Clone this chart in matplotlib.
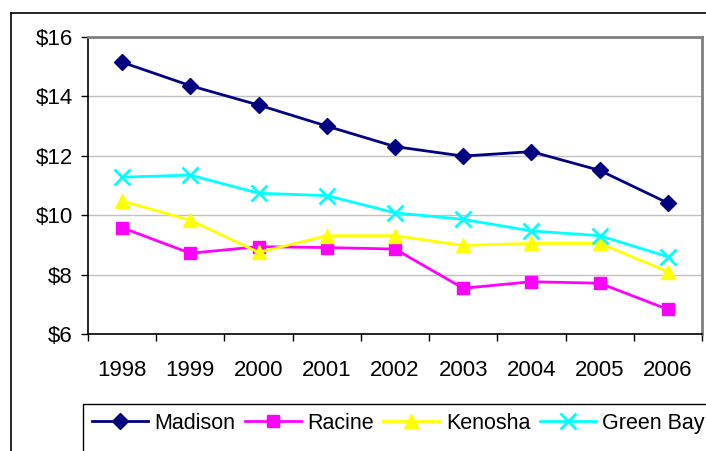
import matplotlib
matplotlib.use('Agg')
import matplotlib.pyplot as plt
from matplotlib.lines import Line2D
from matplotlib.patches import Rectangle
import numpy as np

plt.rcParams['font.family'] = ['Liberation Sans', 'DejaVu Sans']

# Wage values by city, 1998-2006
years = ['1998', '1999', '2000', '2001', '2002', '2003', '2004', '2005', '2006']
madison = [15.15, 14.36, 13.71, 13.00, 12.31, 11.99, 12.14, 11.51, 10.41]
racine = [9.58, 8.72, 8.94, 8.91, 8.86, 7.54, 7.76, 7.71, 6.83]
kenosha = [10.48, 9.83, 8.75, 9.31, 9.31, 8.98, 9.05, 9.05, 8.10]
green_bay = [11.28, 11.35, 10.74, 10.66, 10.08, 9.86, 9.47, 9.31, 8.60]
y_ticks = [6, 8, 10, 12, 14, 16]

fig = plt.figure(figsize=(7.06, 4.51), dpi=100)
fig.patch.set_facecolor('white')

# outer chart frame (runs off the right and bottom edges)
fig.add_artist(Line2D([11 / 706, 11 / 706], [0, 1 - 13 / 451], transform=fig.transFigure, color='black', lw=1.2))
fig.add_artist(Line2D([11 / 706, 1], [1 - 13 / 451, 1 - 13 / 451], transform=fig.transFigure, color='black', lw=1.2))

ax = fig.add_axes([88 / 706, 1 - 334 / 451, (702 - 88) / 706, (334 - 37) / 451])

x = np.arange(len(years))
series = [
	('Madison', madison, '#000080', 'D', 8, 1.0),
	('Racine', racine, '#FF00FF', 's', 8.5, 1.0),
	('Kenosha', kenosha, '#FFFF00', '^', 10.5, 1.0),
	('Green Bay', green_bay, '#00FFFF', 'x', 11, 2.0),
]
for name, vals, col, mk, ms, mew in series:
	ax.plot(x, vals, color=col, lw=2, marker=mk, markersize=ms,
			markerfacecolor=col, markeredgecolor=col, markeredgewidth=mew,
			label=name, zorder=3)

ax.set_xlim(-0.5, len(years) - 0.5)
ax.set_ylim(6, 16)
ax.set_yticks(y_ticks)
ax.set_yticklabels([f'${v}' for v in y_ticks], fontsize=16)
ax.set_xticks(x)
ax.set_xticklabels(years, fontsize=16)
ax.set_xticks(np.arange(len(years) + 1) - 0.5, minor=True)
ax.tick_params(axis='x', which='major', length=0, pad=19)
ax.tick_params(axis='x', which='minor', length=5, width=1, direction='out')
ax.tick_params(axis='y', length=5, width=1, direction='out', pad=6)

ax.grid(True, axis='y', color='#C0C0C0', lw=1)
ax.set_axisbelow(True)

ax.spines['left'].set_color('black')
ax.spines['bottom'].set_color('black')
ax.spines['left'].set_linewidth(1.2)
ax.spines['bottom'].set_linewidth(1.2)
ax.spines['top'].set_color('#808080')
ax.spines['right'].set_color('#808080')
ax.spines['top'].set_linewidth(2)
ax.spines['right'].set_linewidth(2)

# legend box runs past the bottom/right edge, so draw its frame by hand
fig.add_artist(Rectangle((83 / 706, -0.05), 1.0, 1 - 404 / 451 + 0.05, transform=fig.transFigure,
						 facecolor='white', edgecolor='black', lw=1.0, zorder=1))
leg = fig.legend(loc='upper left', bbox_to_anchor=(83 / 706, 1 - 404 / 451), ncol=4,
				 fontsize=15.5, frameon=False,
				 handlelength=2.6, handletextpad=0.3, columnspacing=0.45,
				 borderpad=0.4, borderaxespad=0)
leg.set_zorder(2)

fig.savefig('out.png', dpi=100, facecolor='white')
plt.close(fig)
